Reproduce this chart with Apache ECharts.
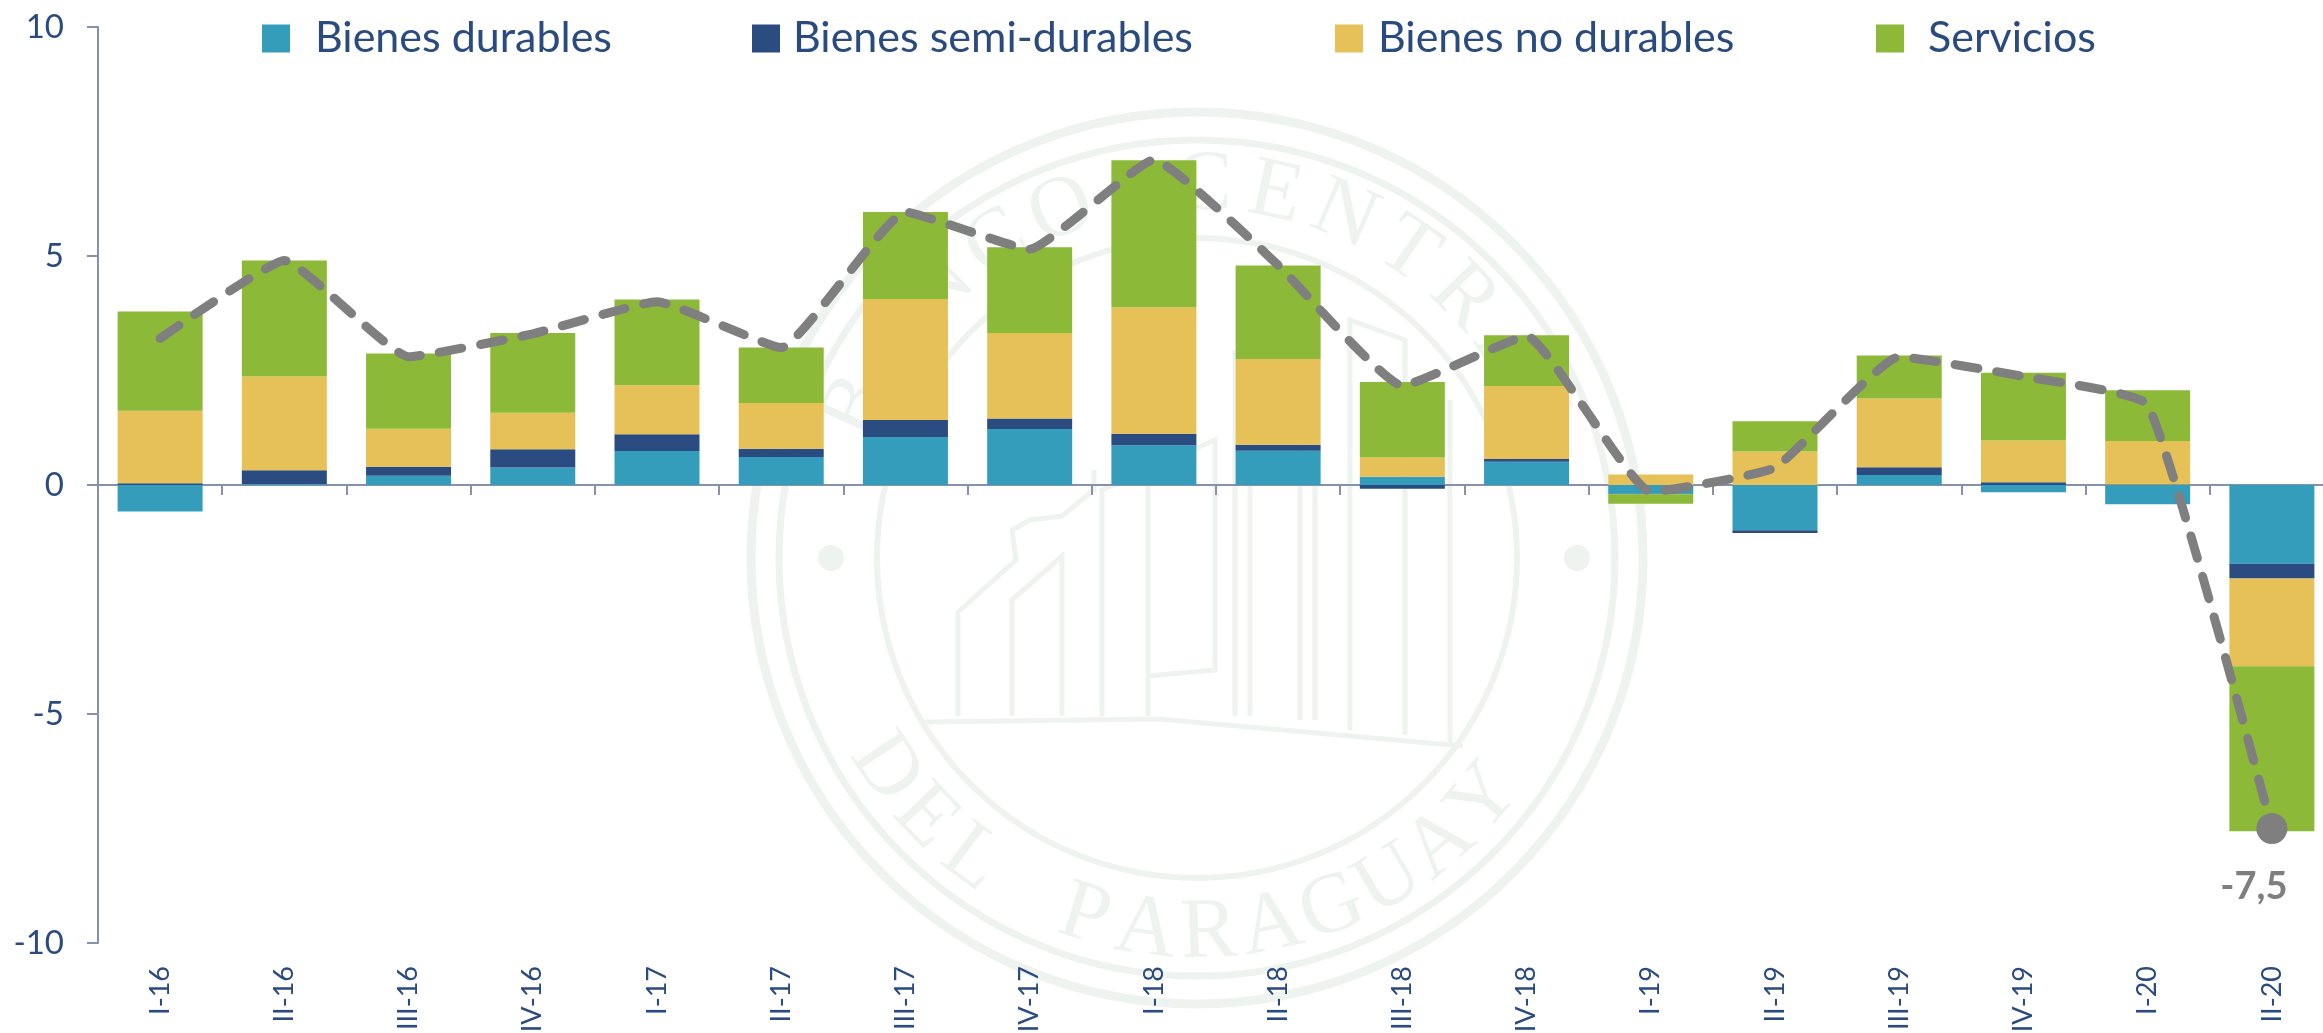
<!DOCTYPE html>
<html>
<head>
<meta charset="utf-8">
<style>html,body{margin:0;padding:0;background:#fff;overflow:hidden}#c{width:2323px;height:1033px}</style>
<script src="https://cdn.jsdelivr.net/npm/echarts@6/dist/echarts.min.js"></script>
</head>
<body>
<div id="c"></div>
<script>
const categories = ['I-16','II-16','III-16','IV-16','I-17','II-17','III-17','IV-17','I-18','II-18','III-18','IV-18','I-19','II-19','III-19','IV-19','I-20','II-20'];
const bienesDurables = [-0.58,0.02,0.20,0.38,0.74,0.61,1.05,1.22,0.87,0.75,0.18,0.51,-0.19,-0.99,0.22,-0.16,-0.42,-1.72];
const bienesSemi = [0.04,0.30,0.20,0.40,0.37,0.18,0.37,0.23,0.25,0.13,-0.08,0.06,-0.01,-0.06,0.17,0.06,0.01,-0.32];
const bienesNo = [1.58,2.05,0.83,0.80,1.07,1.00,2.64,1.87,2.76,1.87,0.42,1.59,0.23,0.73,1.50,0.91,0.95,-1.92];
const servicios = [2.17,2.53,1.64,1.74,1.87,1.21,1.90,1.87,3.21,2.04,1.65,1.11,-0.21,0.66,0.94,1.48,1.11,-3.60];
const total = [3.2,4.9,2.8,3.3,4.0,3.0,5.96,5.15,7.1,4.8,2.17,3.25,-0.15,0.38,2.8,2.37,1.75,-7.5];
const names = ['Bienes durables','Bienes semi-durables','Bienes no durables','Servicios'];
const colors = ['#339DBB','#2B4C80','#E6C157','#8DB938'];
const legendLeft = [262,752,1335,1876];
const legendPad = [20,8,10,19];

const textColor = '#2A4B80', axisColor = '#8891AB', lineColor = '#7F7F7F', wm = '#EFF3F0';
const cx = 1197, cy = 558;

function arcText(str, r, a0, a1, top) {
  const out = [];
  [...str].forEach((ch, i) => {
    const th = (a0 + (a1 - a0) * i / (str.length - 1)) * Math.PI / 180;
    const phi = top ? th + Math.PI / 2 : th - Math.PI / 2;
    out.push({type:'text', z:-10, x:cx + r * Math.cos(th), y:cy + r * Math.sin(th), rotation:-phi,
      style:{text:ch, fill:wm, font:'86px "Liberation Serif"', align:'center', verticalAlign:'middle'}});
  });
  return out;
}
const ring = (r, w) => ({type:'circle', z:-10, shape:{cx, cy, r}, style:{fill:'none', stroke:wm, lineWidth:w}});
const poly = pts => ({type:'polyline', z:-10, shape:{points:pts}, style:{fill:'none', stroke:wm, lineWidth:5}});
const watermark = [
  ring(446,9), ring(418,7), ring(320,6),
  {type:'circle', z:-10, shape:{cx:831, cy, r:13}, style:{fill:wm}},
  {type:'circle', z:-10, shape:{cx:1577, cy, r:13}, style:{fill:wm}},
  ...arcText('BANCO CENTRAL', 372, 204, 338, true),
  ...arcText('DEL PARAGUAY', 376, 146, 40, false),
  poly([[924,722],[1159,719],[1463,746]]),
  poly([[958,716],[958,612],[1016,560],[1012,530],[1030,520],[1062,516],[1094,490],[1094,470]]),
  poly([[1012,716],[1012,600],[1062,556],[1062,716]]),
  poly([[1102,716],[1102,490],[1215,440],[1215,670],[1148,676]]),
  poly([[1148,716],[1148,480]]),
  poly([[1235,716],[1235,350]]), poly([[1250,716],[1250,350]]),
  poly([[1300,720],[1300,370]]), poly([[1315,720],[1315,370]]),
  poly([[1350,730],[1350,320],[1405,340],[1405,735]]),
  poly([[1450,745],[1450,400]])
];

const barSeries = names.map((n, i) => ({
  name:n, type:'bar', stack:'t', barWidth:85, z:3,
  data:[bienesDurables,bienesSemi,bienesNo,servicios][i],
  itemStyle:{color:colors[i]}, emphasis:{disabled:true}
}));

const lineData = total.map((v, i) => i === total.length - 1 ? {
  value:v, symbol:'circle', symbolSize:31,
  label:{show:true, position:'bottom', distance:24, offset:[-18,0], fontSize:38, fontFamily:'Lato', fontWeight:'bold', color:lineColor,
    formatter:p => String(p.value).replace('.', ',')}
} : {value:v, symbol:'none'});

const chart = echarts.init(document.getElementById('c'), null, {renderer:'canvas'});
chart.setOption({
  animation:false,
  backgroundColor:'#fff',
  graphic:{elements:watermark},
  grid:{left:98, right:-11, top:27, height:916, containLabel:false, outerBoundsMode:'none'},
  legend:names.map((n, i) => ({
    data:[n], left:legendLeft[i], top:17, padding:0, icon:'rect', itemWidth:28, itemHeight:28, selectedMode:false,
    textStyle:{color:textColor, fontFamily:'Lato', fontSize:43, padding:[0,0,0,legendPad[i]]}
  })),
  xAxis:[
    {type:'category', position:'bottom', data:categories, axisLine:{show:false, onZero:false}, axisTick:{show:false},
     axisLabel:{interval:0, rotate:90, margin:23, color:textColor, fontFamily:'Lato', fontSize:27}},
    {type:'category', position:'top', data:categories, axisLine:{show:true, onZero:true, lineStyle:{color:axisColor, width:2}},
     axisTick:{show:true, inside:true, length:10, alignWithLabel:false, lineStyle:{color:axisColor, width:2}},
     axisLabel:{show:false}}
  ],
  yAxis:{type:'value', min:-10, max:10, interval:5, splitLine:{show:false},
    axisLine:{show:true, onZero:false, lineStyle:{color:axisColor, width:2}},
    axisTick:{show:true, length:11, lineStyle:{color:axisColor, width:2}},
    axisLabel:{margin:34, color:textColor, fontFamily:'Lato', fontSize:33, formatter:v => String(v)}},
  series:[...barSeries, {
    name:'Total', type:'line', z:5, smooth:0.12, data:lineData, symbol:'none', showSymbol:true, showAllSymbol:true,
    lineStyle:{color:lineColor, width:9, type:[23,19], cap:'round', join:'round'}, itemStyle:{color:lineColor},
    emphasis:{disabled:true}
  }]
});
</script>
</body>
</html>
